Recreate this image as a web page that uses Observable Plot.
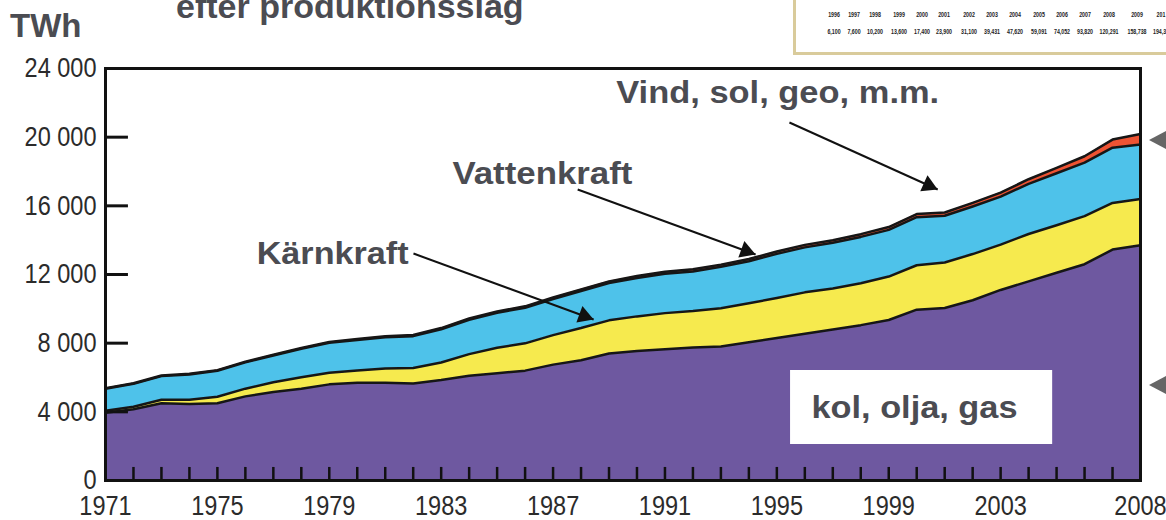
<!DOCTYPE html>
<html>
<head>
<meta charset="utf-8">
<script src="https://cdn.jsdelivr.net/npm/d3@7"></script>
<script src="https://cdn.jsdelivr.net/npm/@observablehq/plot@0.6"></script>
<style>
  html, body { margin: 0; padding: 0; background: #fff; overflow: hidden; }
  #wrap { position: relative; width: 1166px; height: 520px; }
  .ov { position: absolute; white-space: nowrap; font-family: "Liberation Sans", Arial, sans-serif; font-weight: bold; color: #4b4c52; line-height: 1; }
  #table { position: absolute; left: 793px; top: -12px; width: 400px; height: 64px; border-left: 3px solid #d9cb9b; border-bottom: 3px solid #d9cb9b; background: #fff; }
  .cell { position: absolute; transform: translateX(-50%) scaleX(0.75); font-family: "Liberation Sans", Arial, sans-serif; font-size: 7px; font-weight: bold; color: #222; line-height: 1; }
  .tri { position: absolute; width: 0; height: 0; border-top: 10px solid transparent; border-bottom: 10px solid transparent; border-right: 19px solid #666; }
</style>
</head>
<body>
<div id="wrap"></div>
<script>
// ---------- data ----------
const years = [1971,1972,1973,1974,1975,1976,1977,1978,1979,1980,1981,1982,1983,1984,1985,1986,1987,1988,1989,1990,
               1991,1992,1993,1994,1995,1996,1997,1998,1999,2000,2001,2002,2003,2004,2005,2006,2007,2008];
const sources = ["kol, olja, gas", "Kärnkraft", "Vattenkraft", "Vind, sol, geo, m.m."];
const fossil  = [3950,4150,4500,4450,4500,4900,5150,5350,5600,5700,5700,5650,5850,6100,6250,6400,6750,7000,7400,7550,
                 7650,7750,7800,8050,8300,8550,8800,9050,9350,9950,10050,10500,11100,11600,12100,12600,13450,13700];
const nuclear = [110,150,200,250,380,450,570,660,680,710,830,900,1020,1260,1480,1590,1720,1880,1930,2010,
                 2100,2120,2230,2270,2330,2410,2390,2440,2530,2590,2650,2690,2640,2760,2770,2800,2720,2700];
const hydro   = [1290,1330,1380,1480,1510,1530,1560,1660,1740,1780,1810,1860,1940,2000,2040,2070,2100,2160,2170,2240,
                 2300,2310,2420,2450,2570,2620,2660,2700,2720,2800,2720,2770,2800,2920,3030,3120,3220,3170];
const other   = [30,32,35,38,40,42,45,48,50,55,60,65,70,75,80,85,90,95,100,110,
                 115,120,125,130,140,145,150,160,165,180,190,210,230,270,310,370,470,620];
const colors  = ["#6e58a0", "#f6ea4e", "#4ec2ea", "#ee5333"];

const yTicks = [0, 4000, 8000, 12000, 16000, 20000, 24000];
const xLabelYears = [1971, 1975, 1979, 1983, 1987, 1991, 1995, 1999, 2003, 2008];
const minorYears = years.slice(1, -1);

// annotation labels (year, TWh)
const labels = [
  {text: "Vind, sol, geo, m.m.", x: 1995.03, y: 22544, w: 323},
  {text: "Vattenkraft",          x: 1986.62, y: 17854, w: 180},
  {text: "Kärnkraft",            x: 1979.12, y: 13194, w: 152}
];
const boxLabel = {text: "kol, olja, gas", x: 1999.92, y: 4223, w: 206, x1: 1995.49, x2: 2004.86, y1: 2097, y2: 6408};
const arrows = [
  {x1: 1995.45, y1: 20854, x2: 2000.75, y2: 16951},
  {x1: 1987.88, y1: 16951, x2: 1994.24, y2: 13165},
  {x1: 1982.01, y1: 13223, x2: 1988.45, y2: 9378}
];

// wind-capacity table fragment (top right)
const tableYears  = ["1996","1997","1998","1999","2000","2001","2002","2003","2004","2005","2006","2007","2008","2009","201"];
const tableValues = ["6,100","7,600","10,200","13,600","17,400","23,900","31,100","39,431","47,620","59,091","74,052","93,820","120,291","158,738","194,39"];

const titleText = "efter produktionsslag";
const unitText = "TWh";

// ---------- build ----------
const rows = years.flatMap((yr, i) => [
  {year: yr, source: sources[0], value: fossil[i]},
  {year: yr, source: sources[1], value: nuclear[i]},
  {year: yr, source: sources[2], value: hydro[i]},
  {year: yr, source: sources[3], value: other[i]}
]);

const fmt = d => d3.format(",")(d).replace(/,/g, " ");
const R = 6.5;
const tipDist = 2 * Math.sqrt((R * R * Math.PI) / (3 * Math.sqrt(3)));

function build(heads) {
  return Plot.plot({
    width: 1166,
    height: 520,
    marginLeft: 105,
    marginRight: 26,
    marginTop: 68,
    marginBottom: 40,
    style: {fontFamily: "'Liberation Sans', Arial, sans-serif", fontSize: "28px", color: "#2b2b2b", background: "transparent"},
    x: {domain: [1971, 2008], label: null},
    y: {domain: [0, 24000], label: null},
    color: {domain: sources, range: colors},
    marks: [
      Plot.areaY(rows, {x: "year", y: "value", z: "source", fill: "source"}),
      Plot.lineY(rows, Plot.stackY2({x: "year", y: "value", z: "source", stroke: "#161616", strokeWidth: 2.5})),
      Plot.ruleX(minorYears, {y1: 0, y2: 760, stroke: "#111", strokeWidth: 2.5}),
      Plot.ruleY(yTicks, {x1: 1971, x2: 1971.82, stroke: "#111", strokeWidth: 3}),
      Plot.frame({stroke: "#111", strokeWidth: 3}),
      Plot.axisY({ticks: yTicks, tickFormat: fmt, tickSize: 0, tickPadding: 9, label: null, className: "yax"}),
      Plot.axisX({ticks: xLabelYears, tickFormat: d => String(d), tickSize: 0, tickPadding: 15, label: null, className: "xax"}),
      Plot.rect([boxLabel], {x1: "x1", x2: "x2", y1: "y1", y2: "y2", fill: "white"}),
      Plot.text([boxLabel], {x: "x", y: "y", text: "text", fontSize: 31, fontWeight: "bold", fill: "#4b4c52",
        fontFamily: "'Liberation Sans', Arial, sans-serif", className: "ann"}),
      Plot.text(labels, {x: "x", y: "y", text: "text", fontSize: 31, fontWeight: "bold", fill: "#4b4c52",
        fontFamily: "'Liberation Sans', Arial, sans-serif", className: "ann"}),
      Plot.link(arrows, {x1: "x1", y1: "y1", x2: "x2", y2: "y2", stroke: "#111", strokeWidth: 2}),
      ...heads.map(h => Plot.dot([h.a], {x: "x2", y: "y2", symbol: "triangle", r: R, fill: "#111", stroke: "none",
        rotate: h.rot, dx: h.dx, dy: h.dy}))
    ]
  });
}

const first = build([]);
const sx = first.scale("x"), sy = first.scale("y");
const heads = arrows.map(a => {
  const px1 = sx.apply(a.x1), py1 = sy.apply(a.y1), px2 = sx.apply(a.x2), py2 = sy.apply(a.y2);
  const th = Math.atan2(py2 - py1, px2 - px1);
  return {a, rot: th * 180 / Math.PI + 90, dx: -Math.cos(th) * tipDist, dy: -Math.sin(th) * tipDist};
});
const chart = build(heads);

// stretch annotation text to the measured widths
const widths = [boxLabel.w, ...labels.map(l => l.w)];
Array.from(chart.querySelectorAll("g.ann text")).forEach((t, i) => {
  t.setAttribute("textLength", widths[i]);
  t.setAttribute("lengthAdjust", "spacingAndGlyphs");
});

const wrap = document.getElementById("wrap");
wrap.appendChild(chart);

// narrow the axis tick labels (the original uses a condensed face)
Array.from(chart.querySelectorAll("g.yax text, g.xax text")).forEach(t => {
  const L = t.getComputedTextLength();
  if (L > 0) {
    t.setAttribute("textLength", (L * 0.84).toFixed(1));
    t.setAttribute("lengthAdjust", "spacingAndGlyphs");
  }
});

// overlay: title fragment, unit, table, pointers
const title = document.createElement("div");
title.className = "ov"; title.textContent = titleText;
title.style.cssText = "left:176px; top:-11px; font-size:34px;";
wrap.appendChild(title);

const unit = document.createElement("div");
unit.className = "ov"; unit.textContent = unitText;
unit.style.cssText = "left:10px; top:9px; font-size:33px;";
wrap.appendChild(unit);

const table = document.createElement("div");
table.id = "table";
const colX = [38, 58, 79, 103, 126, 148, 173, 196, 219, 243, 266, 289, 313, 341, 365];
tableYears.forEach((t, i) => {
  const s = document.createElement("span"); s.className = "cell"; s.textContent = t;
  s.style.left = colX[i] + "px"; s.style.top = "23px"; table.appendChild(s);
});
tableValues.forEach((t, i) => {
  const s = document.createElement("span"); s.className = "cell"; s.textContent = t;
  s.style.left = colX[i] + "px"; s.style.top = "40px"; table.appendChild(s);
});
wrap.appendChild(table);

[130, 375].forEach(top => {
  const t = document.createElement("div"); t.className = "tri";
  t.style.left = "1149px"; t.style.top = top + "px"; wrap.appendChild(t);
});
</script>
</body>
</html>
